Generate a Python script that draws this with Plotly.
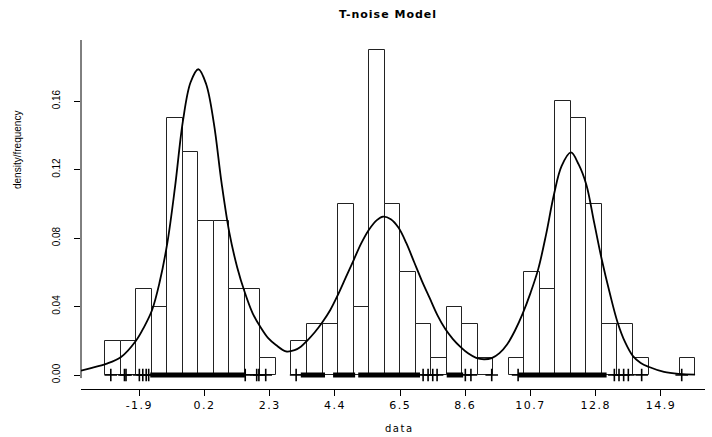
import plotly.graph_objects as go

# Histogram (bin width 0.5), density values
bin_left = [-3.0, -2.5, -2.0, -1.5, -1.0, -0.5, 0.0, 0.5, 1.0, 1.5, 2.0, 2.5,
            3.0, 3.5, 4.0, 4.5, 5.0, 5.5, 6.0, 6.5, 7.0, 7.5, 8.0, 8.5, 9.0, 9.5,
            10.0, 10.5, 11.0, 11.5, 12.0, 12.5, 13.0, 13.5, 14.0, 14.5, 15.0, 15.5]
density = [0.02, 0.02, 0.05, 0.04, 0.15, 0.13, 0.09, 0.09, 0.05, 0.05, 0.01, 0.0,
           0.02, 0.03, 0.03, 0.10, 0.04, 0.19, 0.10, 0.06, 0.03, 0.01, 0.04, 0.03, 0.01, 0.0,
           0.01, 0.06, 0.05, 0.16, 0.15, 0.10, 0.03, 0.03, 0.01, 0.0, 0.0, 0.01]
bin_width = 0.5

# Fitted mixture density curve
curve_x = [-3.78, -3.49, -2.97, -2.49, -2.01, -1.75, -1.49, -1.25, -1.0, -0.75,
           -0.5, -0.25, 0.0, 0.25, 0.5, 0.75, 1.0, 1.25, 1.5, 1.75, 2.0, 2.25,
           2.5, 2.82, 3.1, 3.3, 3.5, 3.75, 4.0, 4.25, 4.5, 4.75, 5.0, 5.25, 5.5,
           5.75, 5.95, 6.2, 6.45, 6.7, 6.95, 7.2, 7.45, 7.7, 7.95, 8.2, 8.45, 8.7,
           8.95, 9.2, 9.45, 9.7, 9.95, 10.2, 10.45, 10.7, 10.95, 11.2, 11.45, 11.7,
           12.0, 12.25, 12.5, 12.75, 13.0, 13.25, 13.5, 13.75, 14.0, 14.25, 14.5,
           15.0, 15.5, 16.0]
curve_y = [0.0025, 0.0039, 0.0065, 0.0105, 0.020, 0.028, 0.038, 0.054, 0.077, 0.110,
           0.148, 0.171, 0.1786, 0.170, 0.147, 0.112, 0.083, 0.063, 0.048, 0.036, 0.028, 0.0215,
           0.0175, 0.0138, 0.0145, 0.0165, 0.020, 0.025, 0.031, 0.038, 0.047, 0.057, 0.067, 0.077, 0.085,
           0.0905, 0.0925, 0.091, 0.086, 0.077, 0.066, 0.055, 0.045, 0.035, 0.027, 0.021, 0.0163, 0.0125,
           0.0100, 0.0092, 0.0099, 0.0128, 0.018, 0.026, 0.036, 0.048, 0.062, 0.082, 0.105, 0.122,
           0.130, 0.123, 0.111, 0.089, 0.067, 0.048, 0.031, 0.019, 0.011, 0.007, 0.0048,
           0.0018, 0.0006, 0.0002]

# Rug: isolated data points and dense stretches of points along the baseline
rug_points = [-2.82, -2.38, -2.33, -1.90, -1.79, -1.68, -1.60, 1.51, 1.88, 1.95, 2.17,
              3.15, 7.24, 7.40, 7.55, 7.69, 8.60, 8.78, 9.45, 10.30, 13.40, 13.55,
              13.70, 13.85, 14.28, 15.57]
rug_segments = [(-1.55, 1.50), (3.30, 4.08), (4.34, 5.05), (5.15, 7.14), (8.00, 8.53),
                (10.30, 13.15)]

x_ticks = [-1.9, 0.2, 2.3, 4.4, 6.5, 8.6, 10.7, 12.8, 14.9]
x_tick_text = ["-1.9", "0.2", "2.3", "4.4", "6.5", "8.6", "10.7", "12.8", "14.9"]
y_ticks = [0.0, 0.04, 0.08, 0.12, 0.16]
y_tick_text = ["0.00", "0.04", "0.08", "0.12", "0.16"]

title_text = "T-noise Model"
x_title = "data"
y_title = "density/frequency"

# ---------------------------------------------------------------
def spaced(s, px):
    return '<span style="letter-spacing:%spx">%s</span>' % (px, s)

bx = [b + bin_width / 2 for b, d in zip(bin_left, density) if d > 0]
by = [d for d in density if d > 0]

fig = go.Figure()
fig.add_trace(go.Bar(
    x=bx, y=by, width=bin_width,
    marker=dict(color="white", line=dict(color="#222222", width=1)),
    hoverinfo="x+y"))

seg_x, seg_y = [], []
for a, b in rug_segments:
    seg_x += [a, b, None]
    seg_y += [0, 0, None]
fig.add_trace(go.Scatter(x=seg_x, y=seg_y, mode="lines",
                         line=dict(color="black", width=5)))
fig.add_trace(go.Scatter(x=rug_points, y=[0] * len(rug_points), mode="markers",
                         marker=dict(symbol="cross-thin-open", size=9, color="black",
                                     line=dict(color="black", width=1.6))))

fig.add_trace(go.Scatter(x=curve_x, y=curve_y, mode="lines",
                         line=dict(color="black", width=1.8, shape="spline", smoothing=1.0)))

font_main = "DejaVu Sans"
fig.update_layout(
    width=712, height=437,
    margin=dict(l=81, r=7, t=40, b=48),
    paper_bgcolor="white", plot_bgcolor="white",
    showlegend=False, bargap=0,
    xaxis=dict(range=[-3.78, 16.32], tickvals=x_ticks,
               ticktext=[spaced(t, 1.5) for t in x_tick_text],
               showline=True, linecolor="black", linewidth=1,
               ticks="outside", ticklen=6, tickcolor="black", tickwidth=1,
               showgrid=False, zeroline=False,
               tickfont=dict(family=font_main, size=11, color="black")),
    yaxis=dict(range=[-0.00818, 0.1957], tickvals=y_ticks, ticktext=y_tick_text,
               showline=False, ticks="outside", ticklen=6, tickcolor="black", tickwidth=1,
               showgrid=False, zeroline=False, tickangle=-90,
               ticklabelstandoff=10,
               tickfont=dict(family="Liberation Sans", size=10, color="black")),
    shapes=[dict(type="line", xref="paper", yref="y", x0=0, x1=0,
                 y0=-0.0018, y1=0.1957, line=dict(color="black", width=1))],
    annotations=[
        dict(text="<b>" + spaced(title_text, 1) + "</b>", xref="paper", yref="paper",
             x=(388 - 81) / 624, y=(389 - 15) / 349, showarrow=False,
             xanchor="center", yanchor="middle",
             font=dict(family=font_main, size=11, color="black")),
        dict(text=spaced(x_title, 1.5), xref="paper", yref="paper",
             x=(399 - 81) / 624, y=(389 - 428) / 349, showarrow=False,
             xanchor="center", yanchor="middle",
             font=dict(family=font_main, size=10, color="black")),
        dict(text=y_title, xref="paper", yref="paper", textangle=-90,
             x=(17 - 81) / 624, y=(389 - 150) / 349, showarrow=False,
             xanchor="center", yanchor="middle",
             font=dict(family="Liberation Sans", size=10, color="black")),
    ],
)

fig.write_html("out.html")
